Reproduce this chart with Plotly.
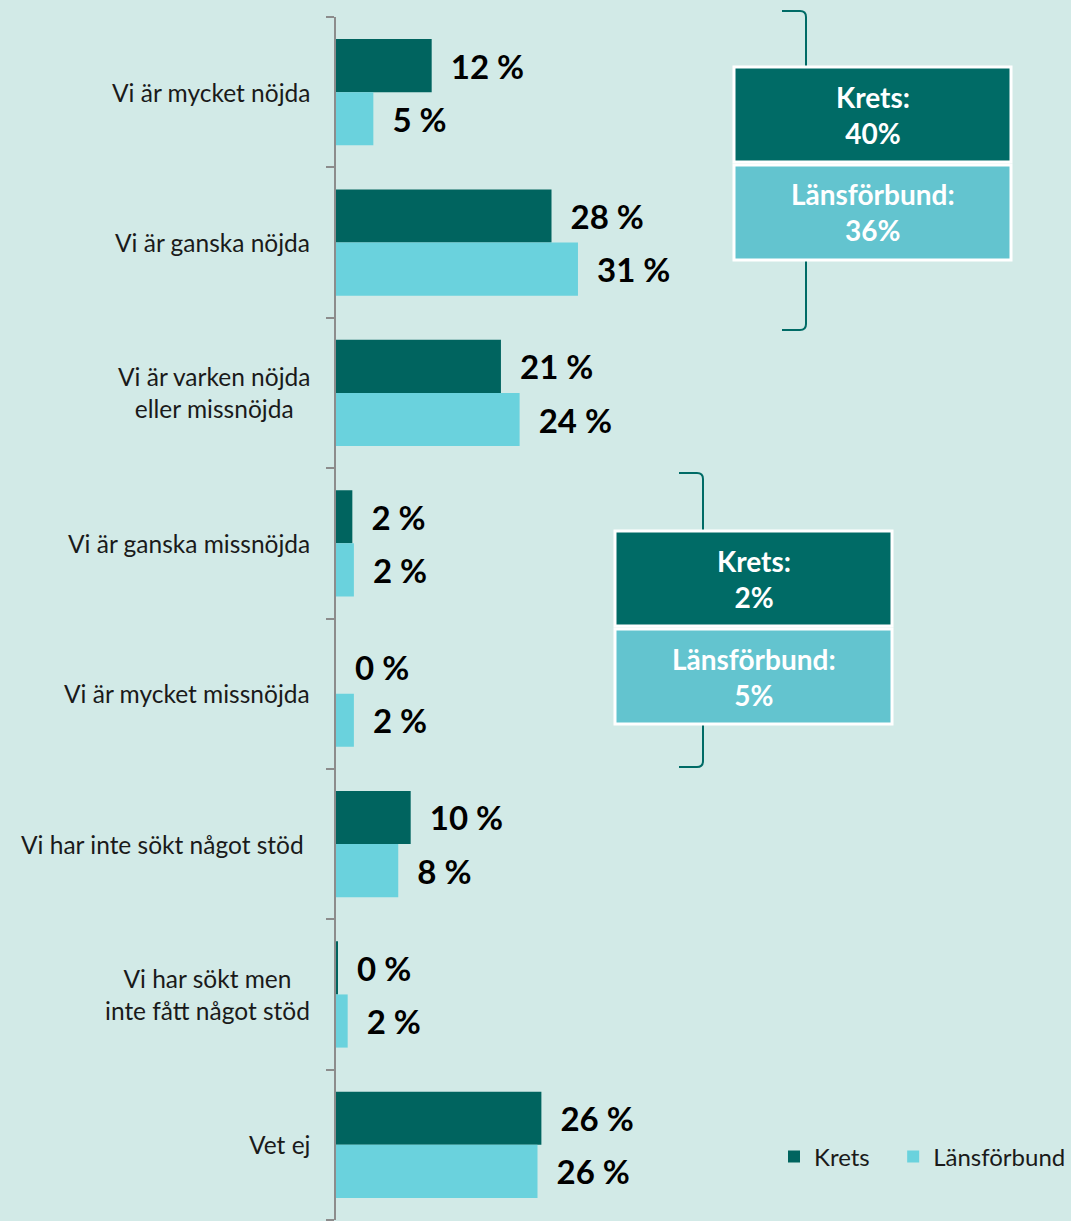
import plotly.graph_objects as go

# ---------------- data ----------------
categories = [
    "Vi är mycket nöjda",
    "Vi är ganska nöjda",
    "Vi är varken nöjda<br>eller missnöjda",
    "Vi är ganska missnöjda",
    "Vi är mycket missnöjda",
    "Vi har inte sökt något stöd\u00a0",
    "Vi har sökt men<br>inte fått något stöd",
    "Vet ej",
]
krets = [12.3, 27.7, 21.2, 2.1, 0.0, 9.6, 0.2, 26.4]
lans = [4.8, 31.1, 23.6, 2.3, 2.3, 8.0, 1.5, 25.9]
series_names = ["Krets", "Länsförbund"]
# groups summarised in the boxes (indices into categories)
group_top = [0, 1]
group_mid = [3, 4]

# ---------------- style ----------------
W, H = 1071, 1221
L, R, T, B = 336, 0, 17, 1
BG = "#D2EAE7"
DARK = "#00645F"
LIGHT = "#6AD2DD"
BOX_DARK = "#006B66"
BOX_LIGHT = "#63C4CF"
FONT = "Lato"

def px_x(px):
    return (px - L) / (W - L - R)

def px_y(py):
    return (H - B - py) / (H - T - B)

x_max = (W - L - R) / 7.78

def lab(v):
    return "\u00a0\u00a0" + f"{round(v)} %"

fig = go.Figure()
legend_pad = ["\u00a0\u00a0\u00a0", ""]
for k, (name, vals, col) in enumerate([(series_names[0], krets, DARK), (series_names[1], lans, LIGHT)]):
    fig.add_trace(go.Bar(
        y=list(range(len(categories))), x=vals, orientation="h", name=name + legend_pad[k],
        marker=dict(color=col, line=dict(width=0)),
        text=[lab(v) for v in vals], textposition="outside",
        textfont=dict(family=FONT, size=33, color="#000000", weight="bold"),
        cliponaxis=False, constraintext="none",
    ))

annotations = []
# category labels (centred multi-line, right aligned block)
for i, c in enumerate(categories):
    annotations.append(dict(
        x=0, xref="paper", y=i, yref="y", text=c, showarrow=False,
        xanchor="right", yanchor="middle", align="center", xshift=-24,
        font=dict(family=FONT, size=24.5, color="#1A1A1A"),
    ))

def box(x0, x1, y0, y1, fill, text):
    fig.add_shape(type="rect", xref="paper", yref="paper",
                  x0=px_x(x0), x1=px_x(x1), y0=px_y(y1), y1=px_y(y0),
                  fillcolor=fill, line=dict(color="white", width=3), layer="above")
    annotations.append(dict(
        x=px_x((x0 + x1) / 2), y=px_y((y0 + y1) / 2), xref="paper", yref="paper",
        text=text, showarrow=False, xanchor="center", yanchor="middle", align="center",
        font=dict(family=FONT, size=28, color="white", weight="bold"),
    ))

def bracket(x, xl, ytop, ybox_top, ybox_bot, ybot, r=6):
    p = lambda a, b: f"{px_x(a)},{px_y(b)}"
    top = f"M {p(xl, ytop)} L {p(x - r, ytop)} Q {p(x, ytop)} {p(x, ytop + r)} L {p(x, ybox_top)}"
    bot = f"M {p(x, ybox_bot)} L {p(x, ybot - r)} Q {p(x, ybot)} {p(x - r, ybot)} L {p(xl, ybot)}"
    for path in (top, bot):
        fig.add_shape(type="path", xref="paper", yref="paper", path=path,
                      line=dict(color=BOX_DARK, width=2))

k_top = sum(krets[i] for i in group_top)
l_top = sum(lans[i] for i in group_top)
k_mid = sum(krets[i] for i in group_mid)
l_mid = sum(lans[i] for i in group_mid)

bracket(806, 782, 11, 67, 260, 330)
box(734, 1011, 67, 162, BOX_DARK, f"{series_names[0]}:<br>{round(k_top)}%")
box(734, 1011, 165, 260, BOX_LIGHT, f"{series_names[1]}:<br>{round(l_top)}%")

bracket(703, 679, 473, 531, 724, 767)
box(615, 892, 531, 626, BOX_DARK, f"{series_names[0]}:<br>{round(k_mid)}%")
box(615, 892, 629, 724, BOX_LIGHT, f"{series_names[1]}:<br>{round(l_mid)}%")

fig.update_layout(
    width=W, height=H,
    margin=dict(l=L, r=R, t=T, b=B, autoexpand=False),
    paper_bgcolor=BG, plot_bgcolor=BG,
    barmode="group", bargap=0.293, bargroupgap=0,
    showlegend=True,
    legend=dict(orientation="h", x=1.0, xanchor="right", y=px_y(1157), yanchor="middle",
                bgcolor="rgba(0,0,0,0)", font=dict(family=FONT, size=24, color="#1A1A1A"),
                traceorder="normal", itemwidth=30),
    annotations=annotations,
    font=dict(family=FONT),
)
fig.update_yaxes(
    type="linear", range=[len(categories) - 0.5, -0.5],
    showticklabels=False, showgrid=False, zeroline=False,
    tickmode="array", tickvals=[i - 0.5 for i in range(len(categories) + 1)],
    ticks="outside", ticklen=8, tickcolor="#8C8C8C", tickwidth=2,
    showline=True, linecolor="#8C8C8C", linewidth=2,
)
fig.update_xaxes(
    range=[0, x_max], showticklabels=False, showgrid=False, zeroline=False,
    showline=False, ticks="",
)

fig.write_html(
    "out.html",
    config={"displayModeBar": False},
    post_script="document.body.style.margin='0';document.body.style.overflow='hidden';"
                "document.body.style.background='" + BG + "';",
)
